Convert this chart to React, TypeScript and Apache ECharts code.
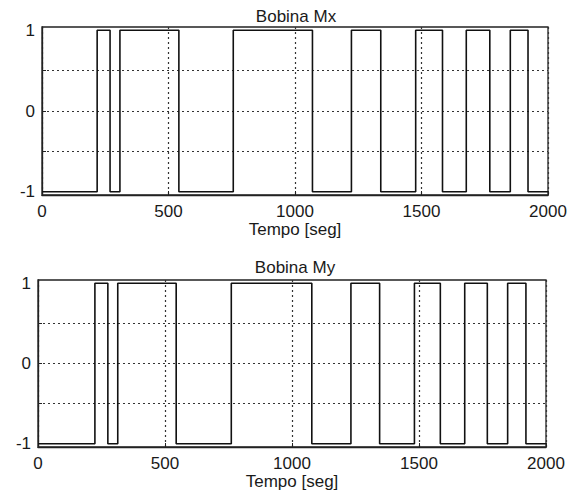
import React, { useEffect, useRef } from "react";
import * as echarts from "echarts";

const xTicks = [0, 500, 1000, 1500, 2000];
const yRange = [-1, 1];
const yGridTicks = [-0.5, 0, 0.5];
const yLabels = [-1, 0, 1];
const titles = ["Bobina Mx", "Bobina My"];
const xAxisName = "Tempo [seg]";

// switching instants (s) and the level that starts at each instant
const mxTimes = [0, 218, 269, 308, 541, 756, 1069, 1223, 1339, 1477, 1583, 1677, 1770, 1851, 1921, 2000];
const mxValues = [-1, 1, -1, 1, -1, 1, -1, 1, -1, 1, -1, 1, -1, 1, -1, -1];
const myTimes = [0, 224, 275, 314, 544, 761, 1078, 1232, 1345, 1482, 1584, 1680, 1769, 1849, 1921, 2000];
const myValues = [-1, 1, -1, 1, -1, 1, -1, 1, -1, 1, -1, 1, -1, 1, -1, -1];

const FONT = "'Liberation Sans', Arial, sans-serif";
const FS = 17;
const Y_PAD = 0.04;

export default function App() {
  const ref = useRef<HTMLDivElement>(null);
  useEffect(() => {
    if (!ref.current) return;
    const chart = echarts.init(ref.current, undefined, { renderer: "svg" });
    const pairs = (t: number[], v: number[]) => t.map((x, i) => [x, v[i]]);
    const xAxis = (gridIndex: number) => ({
      type: "value",
      gridIndex,
      min: xTicks[0],
      max: xTicks[xTicks.length - 1],
      interval: 500,
      name: xAxisName,
      nameLocation: "middle",
      nameGap: 25,
      nameTextStyle: { fontFamily: FONT, fontSize: FS, color: "#1a1a1a" },
      axisLine: { show: true, onZero: false, lineStyle: { color: "#222", width: 1.3 } },
      axisTick: { show: true, inside: true, length: 4, lineStyle: { color: "#222" } },
      axisLabel: {
        fontFamily: FONT,
        fontSize: FS,
        color: "#1a1a1a",
        margin: 8,
        formatter: (v: number) => String(v),
      },
      splitLine: { show: true, lineStyle: { color: "#333", type: [2, 3], width: 1.2 } },
    });
    const yAxis = (gridIndex: number) => ({
      type: "value",
      gridIndex,
      min: yRange[0] - Y_PAD,
      max: yRange[1] + Y_PAD,
      axisLine: { show: true, onZero: false, lineStyle: { color: "#222", width: 1.3 } },
      axisTick: { show: true, inside: true, length: 4, customValues: yGridTicks, lineStyle: { color: "#222" } },
      axisLabel: {
        fontFamily: FONT,
        fontSize: FS,
        color: "#1a1a1a",
        margin: 7,
        customValues: yLabels,
        formatter: (v: number) => String(v),
      },
      splitLine: { show: true, lineStyle: { color: "#333", type: [2, 3], width: 1.2 } },
    });
    const titleStyle = { fontFamily: FONT, fontSize: FS, fontWeight: "normal", color: "#1a1a1a" };
    chart.setOption({
      animation: false,
      backgroundColor: "#fff",
      title: [
        { text: titles[0], left: 291, top: 3, textAlign: "center", textStyle: titleStyle },
        { text: titles[1], left: 290, top: 254, textAlign: "center", textStyle: titleStyle },
      ],
      grid: [
        { left: 42, right: 27, top: 27, height: 168, show: true, borderColor: "#222", borderWidth: 1.3 },
        { left: 38, right: 29, top: 280, height: 167, show: true, borderColor: "#222", borderWidth: 1.3 },
      ],
      xAxis: [xAxis(0), xAxis(1)],
      yAxis: [yAxis(0), yAxis(1)],
      series: [
        {
          type: "line",
          xAxisIndex: 0,
          yAxisIndex: 0,
          step: "end",
          showSymbol: false,
          data: pairs(mxTimes, mxValues),
          lineStyle: { color: "#111", width: 1.6 },
        },
        {
          type: "line",
          xAxisIndex: 1,
          yAxisIndex: 1,
          step: "end",
          showSymbol: false,
          data: pairs(myTimes, myValues),
          lineStyle: { color: "#111", width: 1.6 },
        },
      ],
    });
    return () => chart.dispose();
  }, []);
  return <div ref={ref} style={{ width: 575, height: 497, position: "absolute", left: 0, top: 0 }} />;
}
